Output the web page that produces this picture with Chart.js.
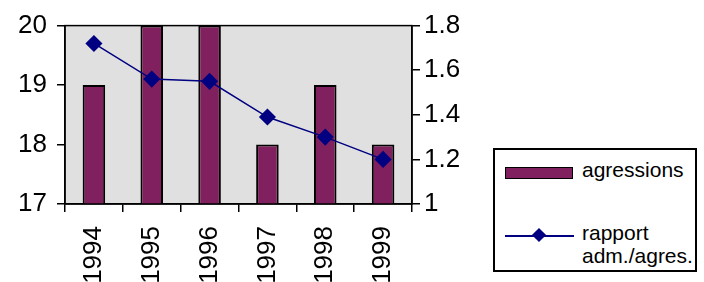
<!DOCTYPE html>
<html>
<head>
<meta charset="utf-8">
<script src="https://cdn.jsdelivr.net/npm/chart.js@4/dist/chart.umd.min.js"></script>
<style>
  body { margin: 0; background: #fff; }
  #wrap { position: relative; width: 704px; height: 282px; overflow: hidden; }
  #legende { position: absolute; left: 493px; top: 148px; width: 204px; height: 124px;
    border: 2px solid #000; box-sizing: border-box; font-family: "Liberation Sans", Arial, sans-serif;
    font-size: 21px; color: #000; background: #fff; }
  .item { position: absolute; left: 10px; }
  .barre { position: absolute; left: 0; top: 5px; width: 66px; height: 10px; background: #80205e; border: 1.5px solid #000; }
  .ligne { position: absolute; left: 0; top: 10px; width: 69px; height: 2px; background: #000080; }
  .losange { position: absolute; left: 29px; top: 5px; width: 10px; height: 10px; background: #000080; transform: rotate(45deg); }
  .txt { position: absolute; left: 77px; top: -4px; white-space: nowrap; line-height: 23px; }
</style>
</head>
<body>
<div id="wrap">
  <canvas id="myChart" width="704" height="282"></canvas>
  <div id="legende">
    <div class="item" style="top:12px"><div class="barre"></div><div class="txt" id="leg1"></div></div>
    <div class="item" style="top:75px"><div class="ligne"></div><div class="losange"></div><div class="txt" id="leg2"></div></div>
  </div>
</div>
<script>
var annees = ["1994", "1995", "1996", "1997", "1998", "1999"];
var agressions = [19, 20, 20, 18, 19, 18];
var rapport = [1.72, 1.56, 1.55, 1.39, 1.30, 1.20];
var nomBarres = "agressions";
var nomLigne = "rapport adm./agres.";

document.getElementById("leg1").textContent = nomBarres;
document.getElementById("leg2").innerHTML = "rapport<br>adm./agres.";

var fondGris = {
  id: 'fondGris',
  beforeDraw: function(chart) {
    var a = chart.chartArea, c = chart.ctx;
    c.save();
    c.fillStyle = '#e0e0e0';
    c.fillRect(a.left, a.top, a.right - a.left, a.bottom - a.top);
    c.restore();
  },
  afterDatasetsDraw: function(chart) {
    var a = chart.chartArea, c = chart.ctx;
    c.save();
    c.strokeStyle = '#000';
    c.lineWidth = 1.5;
    c.strokeRect(a.left, a.top, a.right - a.left, a.bottom - a.top);
    c.restore();
  }
};

var police = { family: '"Liberation Sans", Arial, sans-serif', size: 26 };

var ctx = document.getElementById("myChart").getContext('2d');
var myChart = new Chart(ctx, {
  type: 'bar',
  plugins: [fondGris],
  data: {
    labels: annees,
    datasets: [
      {
        type: 'line',
        label: nomLigne,
        data: rapport,
        yAxisID: 'y2',
        borderColor: '#000080',
        backgroundColor: '#000080',
        borderWidth: 1.5,
        pointStyle: 'rectRot',
        pointRadius: 7.5,
        pointHoverRadius: 7.5,
        tension: 0,
        order: 0
      },
      {
        label: nomBarres,
        data: agressions,
        yAxisID: 'y',
        backgroundColor: '#80205e',
        borderColor: '#000',
        borderWidth: 2,
        borderSkipped: false,
        categoryPercentage: 1,
        barPercentage: 0.39,
        order: 1
      }
    ]
  },
  options: {
    responsive: false,
    animation: false,
    layout: { padding: { top: 25, right: 222, left: 0, bottom: 0 } },
    plugins: { legend: { display: false }, tooltip: { enabled: false } },
    scales: {
      x: {
        grid: { offset: true, drawOnChartArea: false, color: '#000', tickLength: 8, lineWidth: 1.5 },
        border: { color: '#000', width: 1.5 },
        ticks: { color: '#000', font: police, maxRotation: 90, minRotation: 90, padding: 14 },
        afterFit: function(s) { s.height = 78; }
      },
      y: {
        position: 'left',
        min: 17, max: 20,
        grid: { drawOnChartArea: false, color: '#000', tickLength: 8, lineWidth: 1.5 },
        border: { color: '#000', width: 1.5 },
        ticks: { stepSize: 1, color: '#000', font: police, padding: 10 },
        afterFit: function(s) { s.width = 65; }
      },
      y2: {
        position: 'right',
        min: 1, max: 1.8,
        grid: { drawOnChartArea: false, color: '#000', tickLength: 8, lineWidth: 1.5 },
        border: { color: '#000', width: 1.5 },
        ticks: {
          stepSize: 0.2, color: '#000', font: police, padding: 4,
          callback: function(v) { return String(Math.round(v * 10) / 10); }
        },
        afterFit: function(s) { s.width = 70; }
      }
    }
  }
});
</script>
</body>
</html>
